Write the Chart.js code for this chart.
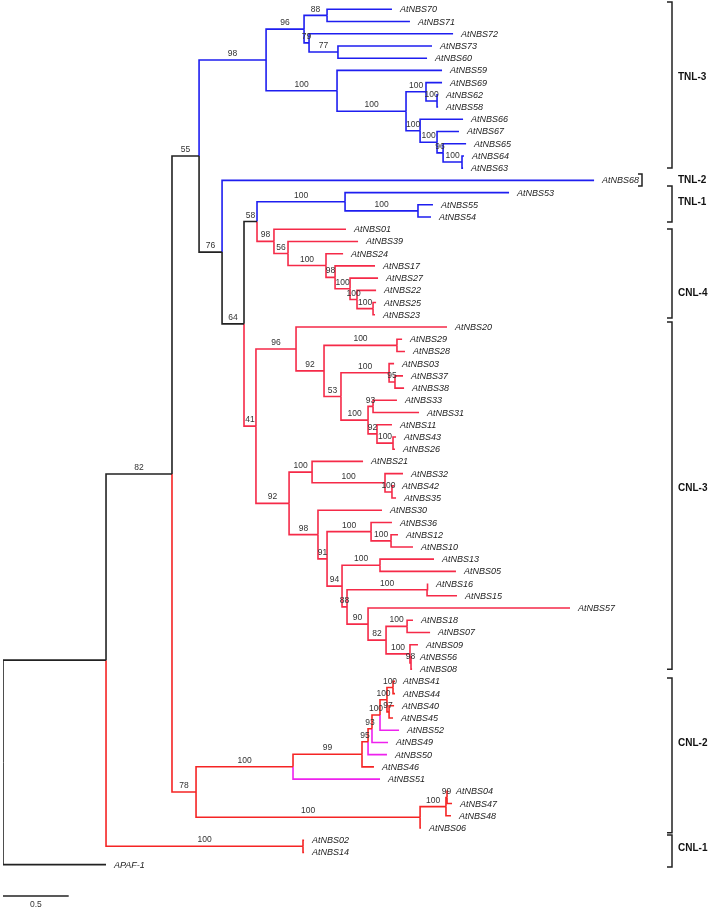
<!DOCTYPE html>
<html>
<head>
<meta charset="utf-8">
<script src="https://cdn.jsdelivr.net/npm/chart.js@4.4.0/dist/chart.umd.min.js"></script>
<style>
  html, body { margin: 0; padding: 0; background: #fff; }
  #wrap { width: 708px; height: 909px; position: relative; }
</style>
</head>
<body>
<div id="wrap"><canvas id="tree"></canvas></div>
<script>
// Leaves, top to bottom
const leafNames = [
  "AtNBS70", "AtNBS71", "AtNBS72", "AtNBS73", "AtNBS60", "AtNBS59", "AtNBS69", "AtNBS62", "AtNBS58",
  "AtNBS66", "AtNBS67", "AtNBS65", "AtNBS64", "AtNBS63", "AtNBS68", "AtNBS53", "AtNBS55", "AtNBS54",
  "AtNBS01", "AtNBS39", "AtNBS24", "AtNBS17", "AtNBS27", "AtNBS22", "AtNBS25", "AtNBS23", "AtNBS20",
  "AtNBS29", "AtNBS28", "AtNBS03", "AtNBS37", "AtNBS38", "AtNBS33", "AtNBS31", "AtNBS11", "AtNBS43",
  "AtNBS26", "AtNBS21", "AtNBS32", "AtNBS42", "AtNBS35", "AtNBS30", "AtNBS36", "AtNBS12", "AtNBS10",
  "AtNBS13", "AtNBS05", "AtNBS16", "AtNBS15", "AtNBS57", "AtNBS18", "AtNBS07", "AtNBS09", "AtNBS56",
  "AtNBS08", "AtNBS41", "AtNBS44", "AtNBS40", "AtNBS45", "AtNBS52", "AtNBS49", "AtNBS50", "AtNBS46",
  "AtNBS51", "AtNBS04", "AtNBS47", "AtNBS48", "AtNBS06", "AtNBS02", "AtNBS14", "APAF-1",
];
const leafParent = [
  "nT88", "nT88", "nT79", "nT77", "nT77", "nT100a", "nT100c", "nT100d", "nT100d",
  "nT100e", "nT100f", "nT96b", "nT100g", "nT100g", "n76", "nT1", "nT1b", "nT1b",
  "nC4", "nC4b", "nC4c", "nC4d", "nC4e", "nC4f", "nC4g", "nC4g", "nC3a",
  "nC3c", "nC3c", "nC3e", "nC3f", "nC3f", "nC3h", "nC3h", "nC3i", "nC3j",
  "nC3j", "nC3l", "nC3m", "nC3n", "nC3n", "nC3o", "nC3q", "nC3r", "nC3r",
  "nC3t", "nC3t", "nC3v", "nC3v", "nC3w", "nC3y", "nC3y", "nC3z", "nC3aa",
  "nC3aa", "nC2g", "nC2g", "nC2h", "nC2h", "nC2e", "nC2d", "nC2c", "nC2b",
  "nC2a", "nC2k", "nC2k", "nC2j", "nC2i", "nCNL1", "nCNL1", "root",
];
// distance from root (substitutions per site)
const leafDepth = [
  2.960, 3.097, 3.425, 3.265, 3.227, 3.341, 3.341, 3.311, 3.311,
  3.501, 3.470, 3.524, 3.508, 3.501, 4.498, 3.851, 3.272, 3.257,
  2.610, 2.702, 2.588, 2.831, 2.854, 2.839, 2.839, 2.831, 3.379,
  3.037, 3.059, 2.976, 3.044, 3.052, 2.998, 3.166, 2.960, 2.991,
  2.983, 2.740, 3.044, 2.976, 2.991, 2.884, 2.960, 3.006, 3.120,
  3.280, 3.447, 3.234, 3.455, 4.315, 3.120, 3.250, 3.158, 3.113,
  3.113, 2.983, 2.983, 2.976, 2.968, 3.014, 2.930, 2.922, 2.823,
  2.869, 3.387, 3.417, 3.409, 3.181, 2.291, 2.291, 0.784,
];
const leafColor = [
  "b", "b", "b", "b", "b", "b", "b", "b", "b",
  "b", "b", "b", "b", "b", "b", "b", "b", "b",
  "r", "r", "r", "r", "r", "r", "r", "r", "r",
  "r", "r", "r", "r", "r", "r", "r", "r", "r",
  "r", "r", "r", "r", "r", "r", "r", "r", "r",
  "r", "r", "r", "r", "r", "r", "r", "r", "r",
  "r", "R", "R", "R", "R", "m", "m", "m", "R",
  "m", "R", "R", "R", "R", "R", "R", "k",
];

// Internal nodes
const nodeNames = [
  "root", "nX", "n82", "nCNL1", "n55", "n78", "nT98", "n76", "nT96", "nT88",
  "nT79", "nT77", "nT100a", "nT100b", "nT100c", "nT100d", "nT100e", "nT100f", "nT96b", "nT100g",
  "n64", "n58", "n41", "nT1", "nT1b", "nC4", "nC4b", "nC4c", "nC4d", "nC4e",
  "nC4f", "nC4g", "nC3a", "nC3b", "nC3c", "nC3d", "nC3e", "nC3f", "nC3g", "nC3h",
  "nC3i", "nC3j", "nC3k", "nC3l", "nC3m", "nC3n", "nC3o", "nC3p", "nC3q", "nC3r",
  "nC3s", "nC3t", "nC3u", "nC3v", "nC3w", "nC3x", "nC3y", "nC3z", "nC3aa", "nC2a",
  "nC2b", "nC2c", "nC2d", "nC2e", "nC2f", "nC2g", "nC2h", "nC2i", "nC2j", "nC2k",
];
const nodeParent = [
  null, "root", "nX", "nX", "n82", "n82", "n55", "n55", "nT98", "nT96",
  "nT96", "nT79", "nT98", "nT100a", "nT100b", "nT100c", "nT100b", "nT100e", "nT100f", "nT96b",
  "n76", "n64", "n64", "n58", "nT1", "n58", "nC4", "nC4b", "nC4c", "nC4d",
  "nC4e", "nC4f", "n41", "nC3a", "nC3b", "nC3b", "nC3d", "nC3e", "nC3d", "nC3g",
  "nC3g", "nC3i", "n41", "nC3k", "nC3l", "nC3m", "nC3k", "nC3o", "nC3p", "nC3q",
  "nC3p", "nC3s", "nC3s", "nC3u", "nC3u", "nC3w", "nC3x", "nC3x", "nC3z", "n78",
  "nC2a", "nC2b", "nC2c", "nC2d", "nC2e", "nC2f", "nC2f", "n78", "nC2i", "nC2j",
];
const nodeDepth = [
  0, 0.784, 1.286, 2.283, 1.492, 1.469, 2.002, 1.667, 2.291, 2.466,
  2.329, 2.549, 2.542, 3.067, 3.219, 3.303, 3.174, 3.303, 3.349, 3.493,
  1.834, 1.933, 1.925, 2.603, 3.158, 2.062, 2.169, 2.458, 2.527, 2.641,
  2.694, 2.816, 2.230, 2.443, 2.998, 2.572, 2.938, 2.983, 2.778, 2.816,
  2.846, 2.968, 2.177, 2.352, 2.907, 2.960, 2.397, 2.466, 2.801, 2.953,
  2.580, 2.869, 2.618, 3.227, 2.778, 2.915, 3.075, 3.097, 3.105, 2.207,
  2.732, 2.778, 2.808, 2.869, 2.922, 2.968, 2.938, 3.174, 3.371, 3.379,
];
const nodeSupport = [
  null, null, 82, 100, 55, 78, 98, 76, 96, 88,
  79, 77, 100, 100, 100, 100, 100, 100, 96, 100,
  64, 58, 41, 100, 100, 98, 56, 100, 98, 100,
  100, 100, 96, 92, 100, 53, 100, 95, 100, 93,
  92, 100, 92, 100, 100, 100, 98, 91, 100, 100,
  94, 100, 88, 100, 90, 82, 100, 100, 98, 100,
  99, 95, 93, 100, 100, 100, 97, 100, 100, 99,
];
const nodeColor = [
  "k", "k", "k", "R", "k", "R", "b", "k", "b", "b",
  "b", "b", "b", "b", "b", "b", "b", "b", "b", "b",
  "k", "k", "r", "b", "b", "r", "r", "r", "r", "r",
  "r", "r", "r", "r", "r", "r", "r", "r", "r", "r",
  "r", "r", "r", "r", "r", "r", "r", "r", "r", "r",
  "r", "r", "r", "r", "r", "r", "r", "r", "r", "R",
  "R", "R", "R", "R", "R", "R", "R", "R", "R", "R",
];

// Clade brackets (rows of the leaf list)
const cladeNames = ["TNL-3", "TNL-2", "TNL-1", "CNL-4", "CNL-3", "CNL-2", "CNL-1"];
const cladeTop = [-0.6, 13.48, 14.46, 17.98, 25.59, 54.72, 67.57];
const cladeBottom = [12.99, 14.46, 17.4, 25.26, 54.0, 67.4, 70.19];
const cladeLabelRow = [5.54, 13.97, 15.77, 23.21, 39.17, 60.04, 68.63];

const scaleBarLength = 0.5;
const scaleBarRow = 72.56;

const palette = {
  k: "#222222",
  b: "#1e1ef0",
  r: "#f52a48",
  R: "#f52424",
  m: "#ee22ee",
};

// Build tree positions
const pos = {};
const children = {};
nodeNames.forEach((n, i) => {
  pos[n] = { x: nodeDepth[i], y: null, parent: nodeParent[i], color: nodeColor[i] };
  children[n] = [];
});
leafNames.forEach((n, i) => {
  pos["L" + i] = { x: leafDepth[i], y: i, parent: leafParent[i], color: leafColor[i] };
});
Object.keys(pos).forEach((k) => {
  if (pos[k].parent) children[pos[k].parent].push(k);
});
function nodeY(k) {
  if (pos[k].y !== null) return pos[k].y;
  const ys = children[k].map(nodeY);
  pos[k].y = (Math.min(...ys) + Math.max(...ys)) / 2;
  return pos[k].y;
}
nodeY("root");

const datasets = [];
Object.keys(pos).forEach((k) => {
  const c = pos[k];
  if (!c.parent) return;
  const p = pos[c.parent];
  datasets.push({
    data: [
      { x: p.x, y: p.y },
      { x: p.x, y: c.y },
      { x: c.x, y: c.y },
    ],
    borderColor: palette[c.color],
    borderWidth: 1.6,
    borderJoinStyle: "miter",
    borderCapStyle: "butt",
    pointRadius: 0,
    showLine: true,
    fill: false,
  });
});
// scale bar
datasets.push({
  data: [
    { x: 0, y: scaleBarRow },
    { x: scaleBarLength, y: scaleBarRow },
  ],
  borderColor: "#222",
  borderWidth: 1.6,
  pointRadius: 0,
  showLine: true,
  fill: false,
});

const treeText = {
  id: "treeText",
  afterDatasetsDraw(chart) {
    const ctx = chart.ctx;
    const xs = chart.scales.x;
    const ys = chart.scales.y;
    ctx.save();

    // leaf names
    ctx.font = "italic 9px 'Liberation Sans', Arial, sans-serif";
    ctx.fillStyle = "#222";
    ctx.textAlign = "left";
    ctx.textBaseline = "middle";
    leafNames.forEach((n, i) => {
      ctx.fillText(n, xs.getPixelForValue(leafDepth[i]) + 8, ys.getPixelForValue(i) + 0.5);
    });

    // bootstrap values
    ctx.font = "8.5px 'Liberation Sans', Arial, sans-serif";
    ctx.fillStyle = "#333";
    ctx.textAlign = "center";
    ctx.textBaseline = "bottom";
    nodeNames.forEach((n, i) => {
      if (nodeSupport[i] === null) return;
      const p = pos[nodeParent[i]];
      const mx = (xs.getPixelForValue(p.x) + xs.getPixelForValue(nodeDepth[i])) / 2;
      ctx.fillText(String(nodeSupport[i]), mx, ys.getPixelForValue(pos[n].y) - 2);
    });

    // clade brackets
    ctx.strokeStyle = "#222";
    ctx.lineWidth = 1.5;
    cladeNames.forEach((n, i) => {
      const bx = n === "TNL-2" ? 642 : 672;
      const tick = n === "TNL-2" ? 4 : 5;
      const t = ys.getPixelForValue(cladeTop[i]);
      const b = ys.getPixelForValue(cladeBottom[i]);
      ctx.beginPath();
      ctx.moveTo(bx - tick, t);
      ctx.lineTo(bx, t);
      ctx.lineTo(bx, b);
      ctx.lineTo(bx - tick, b);
      ctx.stroke();
    });
    ctx.font = "bold 10px 'Liberation Sans', Arial, sans-serif";
    ctx.fillStyle = "#111";
    ctx.textAlign = "left";
    ctx.textBaseline = "middle";
    cladeNames.forEach((n, i) => {
      ctx.fillText(n, 678, ys.getPixelForValue(cladeLabelRow[i]));
    });

    // scale bar label
    ctx.font = "8.5px 'Liberation Sans', Arial, sans-serif";
    ctx.fillStyle = "#333";
    ctx.textAlign = "center";
    ctx.textBaseline = "top";
    ctx.fillText(
      String(scaleBarLength),
      (xs.getPixelForValue(0) + xs.getPixelForValue(scaleBarLength)) / 2,
      ys.getPixelForValue(scaleBarRow) + 4
    );
    ctx.restore();
  },
};

new Chart(document.getElementById("tree").getContext("2d"), {
  type: "scatter",
  data: { datasets: datasets },
  options: {
    responsive: true,
    maintainAspectRatio: false,
    animation: false,
    layout: { padding: { left: 3, right: 0, top: 0, bottom: 0 } },
    scales: {
      x: { type: "linear", display: false, min: 0, max: 5.365 },
      y: { type: "linear", display: false, reverse: true, min: -0.761, max: 73.63 },
    },
    plugins: {
      legend: { display: false },
      tooltip: { enabled: false },
    },
    elements: { line: { tension: 0 } },
  },
  plugins: [treeText],
});
</script>
</body>
</html>
